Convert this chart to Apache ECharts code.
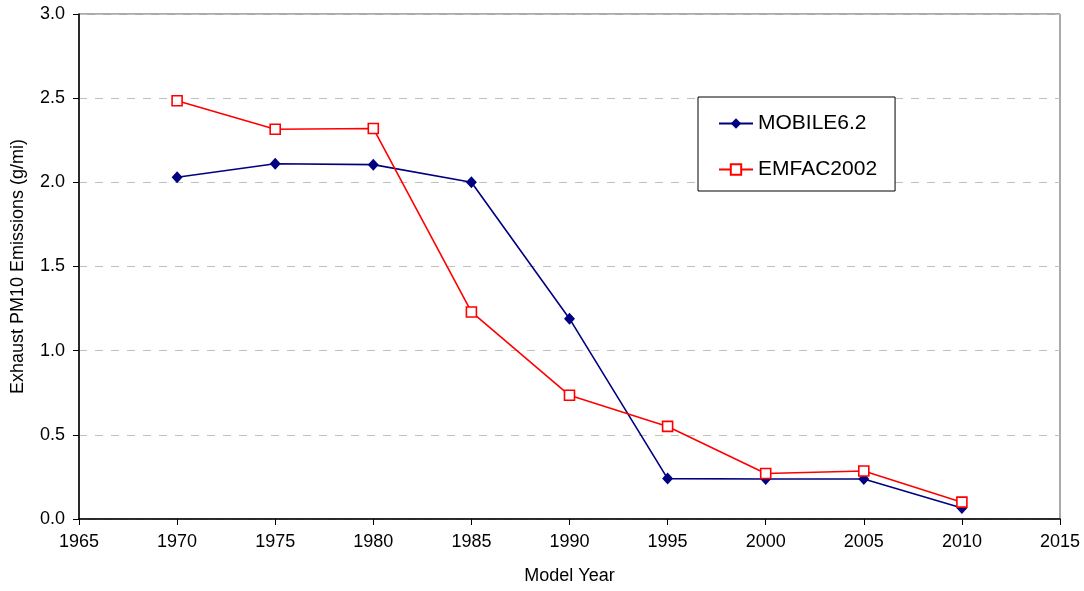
<!DOCTYPE html>
<html>
<head>
<meta charset="utf-8">
<script src="https://cdn.jsdelivr.net/npm/echarts@6/dist/echarts.min.js"></script>
<style>
  html, body { margin: 0; padding: 0; background: #fff; }
  #chart { width: 1084px; height: 591px; }
</style>
</head>
<body>
<div id="chart"></div>
<script>
const years = [1970, 1975, 1980, 1985, 1990, 1995, 2000, 2005, 2010];
const mobile = [2.03, 2.11, 2.105, 2.0, 1.19, 0.24, 0.238, 0.238, 0.065];
const emfac = [2.485, 2.315, 2.32, 1.23, 0.735, 0.55, 0.27, 0.285, 0.10];

const chart = echarts.init(document.getElementById("chart"));
const font = "Liberation Sans, Arial, sans-serif";

const option = {
  animation: false,
  textStyle: { fontFamily: font },
  grid: {
    left: 79,
    right: 24,
    top: 14,
    bottom: 72,
    show: true,
    borderColor: "#555",
    borderWidth: 1,
  },
  legend: {
    left: 698,
    top: 97,
    orient: "vertical",
    backgroundColor: "#fff",
    borderColor: "#000",
    borderWidth: 1,
    padding: [16, 18, 11, 20],
    itemGap: 25,
    itemWidth: 34,
    itemHeight: 13,
    textStyle: { fontSize: 21, color: "#000", fontFamily: font },
    data: ["MOBILE6.2", "EMFAC2002"],
  },
  xAxis: {
    type: "value",
    min: 1965,
    max: 2015,
    interval: 5,
    name: "Model Year",
    nameLocation: "middle",
    nameGap: 48,
    nameTextStyle: { fontSize: 18, color: "#000" },
    axisLine: { lineStyle: { color: "#000", width: 1.5 } },
    axisTick: { length: 6, lineStyle: { color: "#000" } },
    axisLabel: {
      fontSize: 18,
      color: "#000",
      margin: 14,
      formatter: (v) => String(v),
    },
    splitLine: { show: false },
  },
  yAxis: {
    type: "value",
    min: 0,
    max: 3,
    interval: 0.5,
    name: "Exhaust PM10 Emissions (g/mi)",
    nameLocation: "middle",
    nameGap: 52,
    nameTextStyle: { fontSize: 18, color: "#000" },
    axisLine: { show: true, lineStyle: { color: "#000", width: 1.5 } },
    axisTick: { show: true, length: 6, lineStyle: { color: "#000" } },
    axisLabel: {
      fontSize: 18,
      color: "#000",
      margin: 14,
      formatter: (v) => v.toFixed(1),
    },
    splitLine: {
      show: true,
      lineStyle: { color: "#c0c0c0", type: [8, 8] },
    },
  },
  series: [
    {
      name: "MOBILE6.2",
      type: "line",
      data: years.map((y, i) => [y, mobile[i]]),
      symbol: "diamond",
      symbolSize: [11, 12],
      lineStyle: { color: "#000080", width: 1.6 },
      itemStyle: { color: "#000080" },
    },
    {
      name: "EMFAC2002",
      type: "line",
      data: years.map((y, i) => [y, emfac[i]]),
      symbol: "rect",
      symbolSize: 10,
      lineStyle: { color: "#ff0000", width: 1.6 },
      itemStyle: { color: "#fff", borderColor: "#ff0000", borderWidth: 1.6 },
    },
  ],
};

chart.setOption(option);
</script>
</body>
</html>
